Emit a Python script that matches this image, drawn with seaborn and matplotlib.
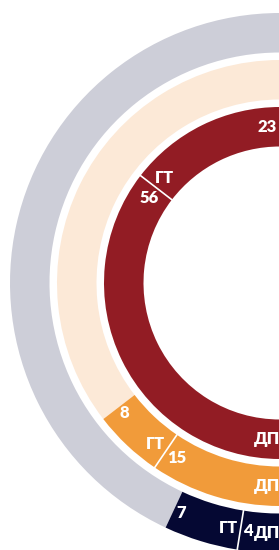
import numpy as np
import matplotlib.pyplot as plt
import seaborn as sns

# ring data (inner -> outer), each ring is a half gauge scaled to the inner total
categories = ["ГТ", "ДП"]
inner_vals = [23, 56]
middle_vals = [8, 15]
outer_vals = [7, 4]

inner_colors = ["#921c24", "#921c24"]
middle_colors = ["#f19b3a", "#f19b3a"]
outer_colors = ["#050833", "#050833"]
rest_colors = ["#921c24", "#fce9d7", "#cdced8"]  # unused part of each ring

sns.set_theme(style="white")
plt.rcParams["font.family"] = ["Lato", "DejaVu Sans"]


def main():
    W, H = 279, 550
    fig = plt.figure(figsize=(W / 100, H / 100), dpi=100)
    ax = fig.add_axes([0, 0, 1, 1])
    ax.set_xlim(0, W)
    ax.set_ylim(0, H)
    ax.set_aspect("equal")
    ax.axis("off")

    cx, cy = 280, H - 283
    width = 39.5
    scale = sum(inner_vals)
    rings = [
        (176, inner_vals, inner_colors, rest_colors[0]),
        (223, middle_vals, middle_colors, rest_colors[1]),
        (270, outer_vals, outer_colors, rest_colors[2]),
    ]

    for radius, vals, cols, rest_col in rings:
        rest = scale - sum(vals)
        sizes = np.array([rest] + vals, dtype=float) / (2 * scale)
        ax.pie(sizes, colors=[rest_col] + cols, startangle=90, counterclock=True,
               normalize=False, radius=radius, center=(cx, cy),
               wedgeprops=dict(width=width, edgecolor="none"))

        r_mid = radius - width / 2
        a = 90 + 180 * rest / scale
        for i, (cat, v) in enumerate(zip(categories, vals)):
            a_end = a + 180 * v / scale
            # value near start, category near end
            vt, ct = str(v), cat
            off_v = np.degrees((3.5 + 4.6 * len(vt)) / r_mid)
            off_c = np.degrees((3.0 + 4.8 * len(ct)) / r_mid)
            for txt, ang in [(vt, a + off_v), (ct, a_end - off_c)]:
                t = np.radians(ang)
                ax.text(cx + r_mid * np.cos(t), cy + r_mid * np.sin(t), txt,
                        color="white", fontsize=12, fontweight="heavy",
                        ha="center", va="center")
            if i == 0:
                t = np.radians(a_end)
                rr = np.array([radius - width, radius])
                ax.plot(cx + rr * np.cos(t), cy + rr * np.sin(t), color="white", lw=1.2)
            a = a_end

    ax.set_xlim(0, W)
    ax.set_ylim(0, H)
    fig.savefig("out.png", dpi=100)


if __name__ == "__main__":
    main()
